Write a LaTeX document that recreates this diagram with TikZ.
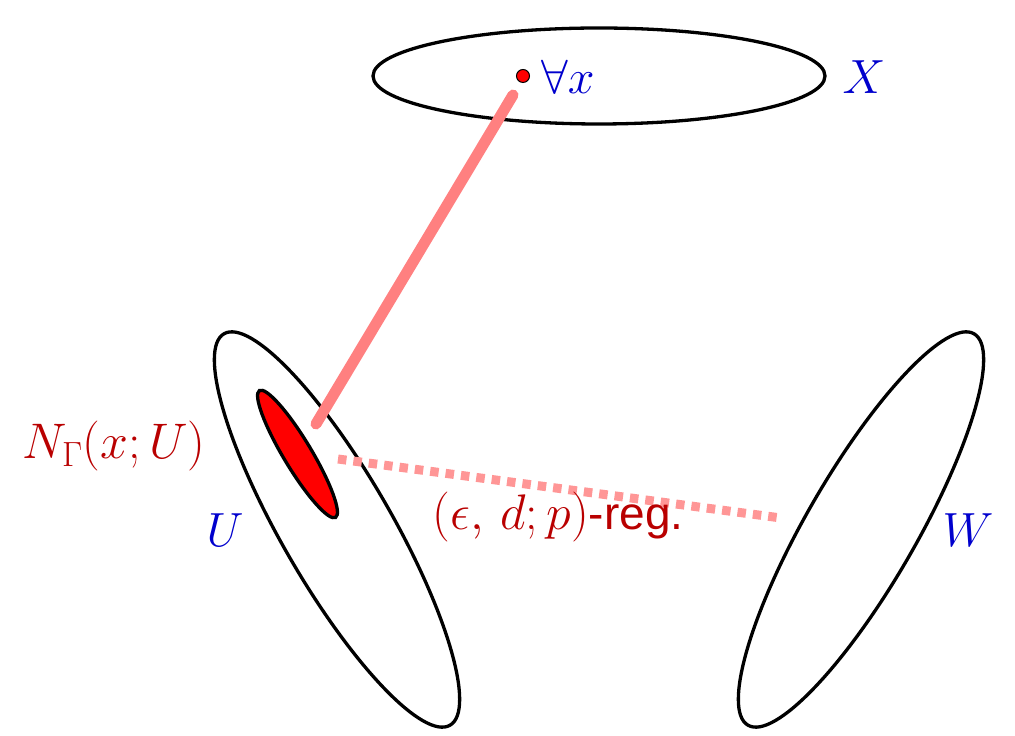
\RequirePackage{fix-cm}
\documentclass[tikz,border=0pt]{standalone}
\usepackage[no-math]{fontspec}
\newfontfamily\helv{Liberation Sans}
\definecolor{lblue}{RGB}{0,0,205}
\definecolor{ldred}{RGB}{185,0,0}
\definecolor{pinkline}{RGB}{255,128,128}
\definecolor{pinkdash}{RGB}{255,150,150}
\tikzset{
  setline/.style={draw=black, line width=3.3pt},
  biglabel/.style={text=lblue, inner sep=0pt, font=\fontsize{48}{56}\selectfont},
  redlabel/.style={text=ldred, inner sep=0pt, font=\fontsize{50}{58}\selectfont},
  solidlink/.style={draw=pinkline, line width=11pt, line cap=round},
  dashlink/.style={draw=pinkdash, line width=9pt, dash pattern=on 8.5pt off 7pt},
}
\begin{document}
\begin{tikzpicture}[x=1pt,y=1pt]
\useasboundingbox (0,0) rectangle (1015,736);
% sets
\coordinate (Xc) at (599,660);
\coordinate (Uc) at (337,206.5);
\coordinate (Wc) at (861,206.5);
\coordinate (Nc) at (297.5,282);
\draw[setline] (Xc) ellipse [x radius=226pt, y radius=48pt];
\draw[setline, rotate around={-60:(Uc)}] (Uc) ellipse [x radius=226pt, y radius=55pt];
\draw[setline, rotate around={60:(Wc)}] (Wc) ellipse [x radius=226pt, y radius=55pt];
% links
\coordinate (ls) at (513,641);
\coordinate (le) at (316,312);
\coordinate (ds) at (338,277);
\coordinate (de) at (781,218);
\draw[solidlink] (ls) -- (le);
\draw[dashlink] (ds) -- (de);
% neighbourhood
\draw[fill=red, draw=black, line width=3.3pt, rotate around={-59:(Nc)}] (Nc) ellipse [x radius=74pt, y radius=14pt];
% point x
\node[circle, fill=red, draw=black, line width=1pt, minimum size=13pt, inner sep=0pt] (pt) at (523,660) {};
% labels
\node[biglabel, anchor=base west] (forall) at (541,642) {$\forall x$};
\node[biglabel, anchor=base] (Xl) at (864,642) {$X$};
\node[biglabel, anchor=base] (Ul) at (225,189) {$U$};
\node[biglabel, anchor=base] (Wl) at (968,189) {$W$};
\node[redlabel, anchor=base] (Nl) at (114,277) {$N_\Gamma(x;U)$};
\node[redlabel, anchor=base] (reg) at (558,206) {$(\epsilon,\, d; p)${\helv\fontsize{46}{54}\selectfont -reg.}};
\end{tikzpicture}
\end{document}
